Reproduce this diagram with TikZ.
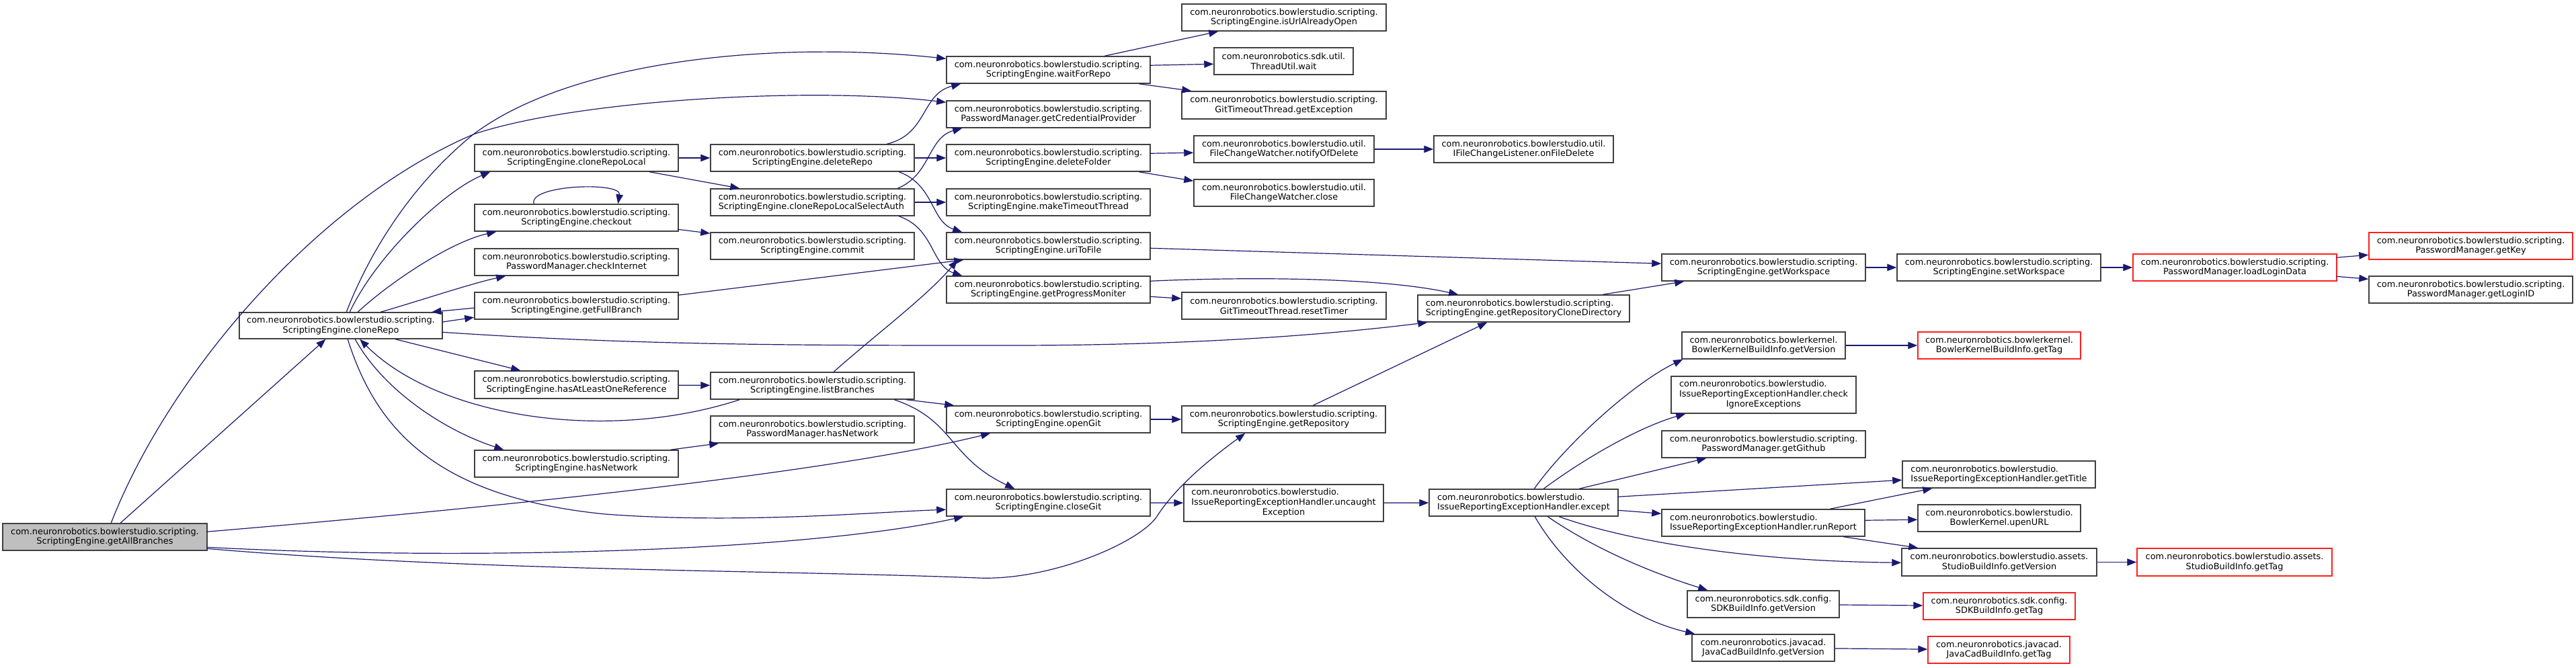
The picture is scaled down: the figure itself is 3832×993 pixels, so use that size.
\documentclass[tikz,border=0pt]{standalone}
\usepackage{fontspec}
\setmainfont{DejaVu Sans}
\usetikzlibrary{arrows.meta,calc}
\definecolor{edgecol}{HTML}{191970}
\definecolor{boxcol}{HTML}{404040}
\definecolor{rootfill}{HTML}{BFBFBF}
\definecolor{redcol}{HTML}{FF2020}
\tikzset{
  box/.style={draw=boxcol, line width=0.75pt, fill=white, inner sep=0pt, align=center, font=\fontsize{6.45}{7.35}\selectfont},
  rootbox/.style={box, fill=rootfill},
  redbox/.style={box, draw=redcol},
  leftbox/.style={box, align=left},
  edge/.style={draw=edgecol, line width=0.6pt, -{Triangle[length=7pt,width=5.3pt]}},
}
\newcommand\bx[7]{\node[#7, minimum width={(#4-#2)*0.5pt}, minimum height={(#5-#3)*0.5pt}] (#1) at ({(#2+#4)/2},{(#3+#5)/2}) {#6};}
\begin{document}
\begin{tikzpicture}[x=0.5pt,y=-0.5pt]
\fill[white] (0,0) rectangle (3832,993);
\useasboundingbox (0,0) rectangle (3832,993);
% nodes
\bx{getAll}{4}{779}{308}{819}{com.neuronrobotics.bowlerstudio.scripting.\\ScriptingEngine.getAllBranches}{rootbox}
\bx{cloneRepo}{356}{465}{658}{504}{com.neuronrobotics.bowlerstudio.scripting.\\ScriptingEngine.cloneRepo}{box}
\bx{cRLocal}{706}{215}{1009}{255}{com.neuronrobotics.bowlerstudio.scripting.\\ScriptingEngine.cloneRepoLocal}{box}
\bx{checkout}{706}{304}{1009}{344}{com.neuronrobotics.bowlerstudio.scripting.\\ScriptingEngine.checkout}{box}
\bx{checkInternet}{706}{370}{1009}{410}{com.neuronrobotics.bowlerstudio.scripting.\\PasswordManager.checkInternet}{box}
\bx{getFullBranch}{706}{435}{1009}{475}{com.neuronrobotics.bowlerstudio.scripting.\\ScriptingEngine.getFullBranch}{box}
\bx{hasAtLeast}{706}{552}{1009}{593}{com.neuronrobotics.bowlerstudio.scripting.\\ScriptingEngine.hasAtLeastOneReference}{box}
\bx{seHasNetwork}{706}{670}{1009}{710}{com.neuronrobotics.bowlerstudio.scripting.\\ScriptingEngine.hasNetwork}{box}
\bx{deleteRepo}{1057}{215}{1360}{255}{com.neuronrobotics.bowlerstudio.scripting.\\ScriptingEngine.deleteRepo}{box}
\bx{cRLSA}{1057}{281}{1360}{321}{com.neuronrobotics.bowlerstudio.scripting.\\ScriptingEngine.cloneRepoLocalSelectAuth}{leftbox}
\bx{commit}{1057}{346}{1360}{386}{com.neuronrobotics.bowlerstudio.scripting.\\ScriptingEngine.commit}{box}
\bx{listBranches}{1057}{554}{1360}{594}{com.neuronrobotics.bowlerstudio.scripting.\\ScriptingEngine.listBranches}{box}
\bx{pmHasNetwork}{1057}{619}{1360}{659}{com.neuronrobotics.bowlerstudio.scripting.\\PasswordManager.hasNetwork}{box}
\bx{waitForRepo}{1408}{84}{1711}{124}{com.neuronrobotics.bowlerstudio.scripting.\\ScriptingEngine.waitForRepo}{box}
\bx{getCred}{1408}{150}{1711}{190}{com.neuronrobotics.bowlerstudio.scripting.\\PasswordManager.getCredentialProvider}{box}
\bx{deleteFolder}{1408}{215}{1711}{255}{com.neuronrobotics.bowlerstudio.scripting.\\ScriptingEngine.deleteFolder}{box}
\bx{makeTimeout}{1408}{281}{1711}{321}{com.neuronrobotics.bowlerstudio.scripting.\\ScriptingEngine.makeTimeoutThread}{box}
\bx{uriToFile}{1408}{346}{1711}{386}{com.neuronrobotics.bowlerstudio.scripting.\\ScriptingEngine.uriToFile}{box}
\bx{getProgress}{1408}{411}{1711}{451}{com.neuronrobotics.bowlerstudio.scripting.\\ScriptingEngine.getProgressMoniter}{box}
\bx{openGit}{1408}{604}{1711}{644}{com.neuronrobotics.bowlerstudio.scripting.\\ScriptingEngine.openGit}{box}
\bx{closeGit}{1408}{728}{1711}{768}{com.neuronrobotics.bowlerstudio.scripting.\\ScriptingEngine.closeGit}{box}
\bx{isUrl}{1758}{6}{2062}{46}{com.neuronrobotics.bowlerstudio.scripting.\\ScriptingEngine.isUrlAlreadyOpen}{box}
\bx{threadWait}{1806}{71}{2013}{111}{com.neuronrobotics.sdk.util.\\ThreadUtil.wait}{box}
\bx{getException}{1758}{136}{2062}{177}{com.neuronrobotics.bowlerstudio.scripting.\\GitTimeoutThread.getException}{box}
\bx{notifyDel}{1776}{202}{2044}{242}{com.neuronrobotics.bowlerstudio.util.\\FileChangeWatcher.notifyOfDelete}{box}
\bx{fcwClose}{1776}{267}{2044}{307}{com.neuronrobotics.bowlerstudio.util.\\FileChangeWatcher.close}{box}
\bx{resetTimer}{1758}{435}{2062}{475}{com.neuronrobotics.bowlerstudio.scripting.\\GitTimeoutThread.resetTimer}{box}
\bx{getRepository}{1758}{604}{2061}{644}{com.neuronrobotics.bowlerstudio.scripting.\\ScriptingEngine.getRepository}{box}
\bx{uncaught}{1761}{721}{2058}{776}{\begin{tabular}{@{}l@{}}com.neuronrobotics.bowlerstudio.\\IssueReportingExceptionHandler.uncaught\\\multicolumn{1}{@{}c@{}}{Exception}\end{tabular}}{box}
\bx{onFileDelete}{2133}{202}{2400}{242}{com.neuronrobotics.bowlerstudio.util.\\IFileChangeListener.onFileDelete}{box}
\bx{getRCD}{2109}{439}{2424}{479}{com.neuronrobotics.bowlerstudio.scripting.\\ScriptingEngine.getRepositoryCloneDirectory}{leftbox}
\bx{except}{2126}{728}{2407}{768}{com.neuronrobotics.bowlerstudio.\\IssueReportingExceptionHandler.except}{leftbox}
\bx{getWorkspace}{2472}{378}{2775}{418}{com.neuronrobotics.bowlerstudio.scripting.\\ScriptingEngine.getWorkspace}{box}
\bx{bkVersion}{2502}{494}{2745}{534}{com.neuronrobotics.bowlerkernel.\\BowlerKernelBuildInfo.getVersion}{box}
\bx{checkIgnore}{2486}{560}{2761}{615}{\begin{tabular}{@{}l@{}}com.neuronrobotics.bowlerstudio.\\IssueReportingExceptionHandler.check\\\multicolumn{1}{@{}c@{}}{IgnoreExceptions}\end{tabular}}{box}
\bx{getGithub}{2472}{641}{2775}{681}{com.neuronrobotics.bowlerstudio.scripting.\\PasswordManager.getGithub}{box}
\bx{runReport}{2472}{758}{2774}{798}{com.neuronrobotics.bowlerstudio.\\IssueReportingExceptionHandler.runReport}{leftbox}
\bx{sdkVersion}{2510}{879}{2736}{919}{com.neuronrobotics.sdk.config.\\SDKBuildInfo.getVersion}{box}
\bx{jcVersion}{2517}{944}{2729}{984}{com.neuronrobotics.javacad.\\JavaCadBuildInfo.getVersion}{box}
\bx{setWorkspace}{2822}{378}{3125}{418}{com.neuronrobotics.bowlerstudio.scripting.\\ScriptingEngine.setWorkspace}{box}
\bx{bkTag}{2853}{494}{3095}{534}{com.neuronrobotics.bowlerkernel.\\BowlerKernelBuildInfo.getTag}{redbox}
\bx{getTitle}{2830}{686}{3117}{726}{com.neuronrobotics.bowlerstudio.\\IssueReportingExceptionHandler.getTitle}{leftbox}
\bx{upenURL}{2853}{751}{3095}{791}{com.neuronrobotics.bowlerstudio.\\BowlerKernel.upenURL}{box}
\bx{studioVersion}{2829}{816}{3119}{857}{com.neuronrobotics.bowlerstudio.assets.\\StudioBuildInfo.getVersion}{box}
\bx{sdkTag}{2861}{882}{3087}{922}{com.neuronrobotics.sdk.config.\\SDKBuildInfo.getTag}{redbox}
\bx{jcTag}{2868}{947}{3079}{987}{com.neuronrobotics.javacad.\\JavaCadBuildInfo.getTag}{redbox}
\bx{loadLogin}{3173}{378}{3476}{418}{com.neuronrobotics.bowlerstudio.scripting.\\PasswordManager.loadLoginData}{redbox}
\bx{studioTag}{3179}{816}{3469}{857}{com.neuronrobotics.bowlerstudio.assets.\\StudioBuildInfo.getTag}{redbox}
\bx{getKey}{3524}{346}{3827}{386}{com.neuronrobotics.bowlerstudio.scripting.\\PasswordManager.getKey}{redbox}
\bx{getLoginID}{3524}{411}{3827}{451}{com.neuronrobotics.bowlerstudio.scripting.\\PasswordManager.getLoginID}{box}
% edges
\draw[edge] (getAll) -- (cloneRepo);
\draw[edge] ($(getAll.north west)+(162,0)$) .. controls (250,560) and (470,300) .. (704,200) .. controls (850,150) and (1200,128) .. ($(getCred.north west)+(0,3)$);
\draw[edge] ($(cloneRepo.north west)+(160,0)$) .. controls (560,350) and (630,260) .. (704,200) .. controls (850,90) and (1150,60) .. ($(waitForRepo.north west)+(0,4)$);
\draw[edge] ($(cloneRepo.north west)+(165,0)$) .. controls (560,380) and (660,285) .. ($(cRLocal.south west)+(24,0)$);
\draw[edge] ($(cloneRepo.north west)+(177,0)$) .. controls (580,420) and (670,360) .. ($(checkout.south west)+(33,0)$);
\draw[edge] ($(cloneRepo.north west)+(211,0)$) .. controls (610,452) and (700,422) .. ($(checkInternet.south west)+(47,0)$);
\draw[edge] ($(getFullBranch.north west)+(0,24)$) -- ($(cloneRepo.north west)+(287,0)$);
\draw[edge] ($(cloneRepo.north west)+(302,15)$) -- ($(getFullBranch.north west)+(0,38)$);
\draw[edge] ($(cloneRepo.north west)+(302,30)$) .. controls (950,514) and (1200,514) .. (1500,514) .. controls (1800,514) and (2000,495) .. ($(getRCD.south west)+(15,0)$);
\draw[edge] ($(cloneRepo.south west)+(233,0)$) -- ($(hasAtLeast.north west)+(69,0)$);
\draw[edge] ($(listBranches.south west)+(44,0)$) .. controls (900,660) and (650,620) .. ($(cloneRepo.south west)+(180,0)$);
\draw[edge] ($(cloneRepo.south west)+(173,0)$) .. controls (570,580) and (660,640) .. ($(seHasNetwork.north west)+(44,0)$);
\draw[edge] ($(cloneRepo.south west)+(162,0)$) .. controls (560,640) and (650,740) .. (900,765) .. controls (1100,780) and (1300,762) .. ($(closeGit.north west)+(0,31)$);
\draw[edge] ($(getAll.north west)+(304,13)$) .. controls (800,750) and (1250,700) .. ($(openGit.south west)+(66,0)$);
\draw[edge] ($(getAll.north west)+(304,36)$) .. controls (700,835) and (1200,820) .. ($(closeGit.south west)+(26,0)$);
\draw[edge] ($(getAll.north west)+(304,38)$) .. controls (700,850) and (1150,848) .. (1456,860) .. controls (1560,864) and (1690,810) .. (1720,770) .. controls (1745,730) and (1790,690) .. ($(getRepository.south west)+(95,0)$);
\draw[edge] (cRLocal) -- (deleteRepo);
\draw[edge] ($(cRLocal.south west)+(261,0)$) -- ($(cRLSA.north west)+(44,0)$);
\draw[edge] ($(checkout.north west)+(89,0)$) .. controls (785,275) and (925,270) .. ($(checkout.north west)+(214,0)$);
\draw[edge] ($(checkout.north west)+(303,38)$) -- ($(commit.north west)+(0,2)$);
\draw[edge] ($(getFullBranch.north west)+(303,5)$) -- ($(uriToFile.south west)+(26,0)$);
\draw[edge] (hasAtLeast) -- (listBranches);
\draw[edge] ($(listBranches.north west)+(184,0)$) .. controls (1300,500) and (1380,440) .. ($(uriToFile.south west)+(17,0)$);
\draw[edge] ($(listBranches.south west)+(292,0)$) -- ($(openGit.north west)+(12,0)$);
\draw[edge] ($(listBranches.south west)+(274,0)$) .. controls (1420,625) and (1410,680) .. ($(closeGit.north west)+(102,0)$);
\draw[edge] ($(seHasNetwork.north west)+(292,0)$) -- ($(pmHasNetwork.south west)+(13,0)$);
\draw[edge] ($(deleteRepo.north west)+(263,0)$) .. controls (1380,200) and (1370,140) .. ($(waitForRepo.south west)+(22,0)$);
\draw[edge] (deleteRepo) -- (deleteFolder);
\draw[edge] ($(deleteRepo.south west)+(281,0)$) .. controls (1390,275) and (1385,330) .. ($(uriToFile.north west)+(24,0)$);
\draw[edge] ($(cRLSA.north west)+(279,0)$) .. controls (1385,260) and (1380,205) .. ($(getCred.south west)+(24,0)$);
\draw[edge] (cRLSA) -- (makeTimeout);
\draw[edge] ($(cRLSA.south west)+(281,0)$) .. controls (1390,340) and (1385,395) .. ($(getProgress.north west)+(24,0)$);
\draw[edge] ($(waitForRepo.north west)+(236,0)$) -- ($(isUrl.south west)+(55,0)$);
\draw[edge] ($(waitForRepo.north west)+(303,14)$) -- ($(threadWait.north west)+(0,25)$);
\draw[edge] ($(waitForRepo.south west)+(287,0)$) -- ($(getException.north west)+(15,0)$);
\draw[edge] ($(deleteFolder.north west)+(303,14)$) -- ($(notifyDel.north west)+(0,26)$);
\draw[edge] ($(deleteFolder.south west)+(287,0)$) -- ($(fcwClose.north west)+(0,3)$);
\draw[edge] (notifyDel) -- (onFileDelete);
\draw[edge] ($(uriToFile.north west)+(303,24)$) -- ($(getWorkspace.north west)+(0,15)$);
\draw[edge] ($(getProgress.north west)+(303,8)$) .. controls (1850,412) and (2050,412) .. ($(getRCD.north west)+(61,0)$);
\draw[edge] ($(getProgress.north west)+(303,31)$) -- ($(resetTimer.north west)+(0,10)$);
\draw[edge] ($(getRCD.north west)+(276,0)$) -- ($(getWorkspace.south west)+(34,0)$);
\draw[edge] (getWorkspace) -- (setWorkspace);
\draw[edge] (setWorkspace) -- (loadLogin);
\draw[edge] ($(loadLogin.north west)+(303,6)$) -- ($(getKey.north west)+(0,34)$);
\draw[edge] ($(loadLogin.north west)+(303,34)$) -- ($(getLoginID.north west)+(0,5)$);
\draw[edge] (openGit) -- (getRepository);
\draw[edge] ($(getRepository.north west)+(196,0)$) -- ($(getRCD.south west)+(104,0)$);
\draw[edge] (closeGit) -- (uncaught);
\draw[edge] (uncaught) -- (except);
\draw[edge] ($(except.north west)+(157,0)$) .. controls (2330,660) and (2430,570) .. ($(bkVersion.south west)+(2,0)$);
\draw[edge] ($(except.north west)+(171,0)$) .. controls (2360,680) and (2440,635) .. ($(checkIgnore.south west)+(22,0)$);
\draw[edge] ($(except.north west)+(224,0)$) -- ($(getGithub.south west)+(67,0)$);
\draw[edge] ($(except.north west)+(281,12)$) -- ($(getTitle.north west)+(0,29)$);
\draw[edge] ($(except.north west)+(281,32)$) -- ($(runReport.north west)+(0,7)$);
\draw[edge] ($(except.south west)+(194,0)$) .. controls (2420,805) and (2600,835) .. ($(studioVersion.north west)+(0,22)$);
\draw[edge] ($(except.south west)+(177,0)$) .. controls (2370,815) and (2450,850) .. ($(sdkVersion.north west)+(31,0)$);
\draw[edge] ($(except.south west)+(158,0)$) .. controls (2330,850) and (2420,920) .. ($(jcVersion.north west)+(5,0)$);
\draw[edge] (bkVersion) -- (bkTag);
\draw[edge] ($(runReport.north west)+(251,0)$) -- ($(getTitle.south west)+(45,0)$);
\draw[edge] ($(runReport.north west)+(302,17)$) -- ($(upenURL.north west)+(0,23)$);
\draw[edge] ($(runReport.south west)+(271,0)$) -- ($(studioVersion.north west)+(25,0)$);
\draw[edge] (studioVersion) -- (studioTag);
\draw[edge] (sdkVersion) -- (sdkTag);
\draw[edge] (jcVersion) -- (jcTag);
\end{tikzpicture}
\end{document}
